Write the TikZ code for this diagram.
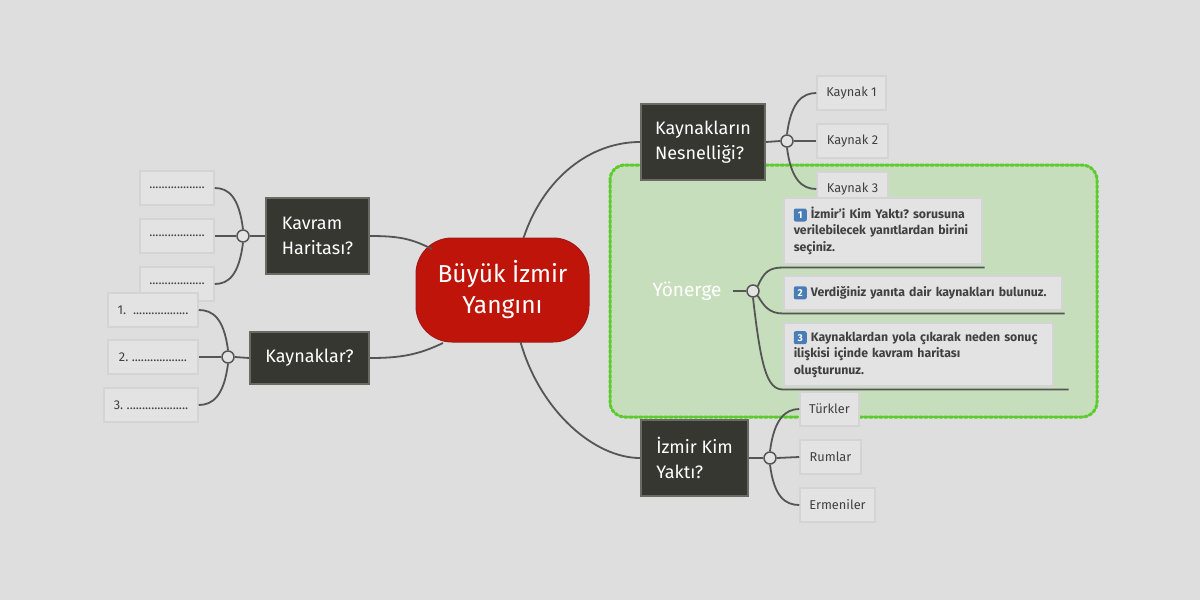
\documentclass[tikz,border=0pt]{standalone}
\usepackage{fontspec}
\setmainfont{Fira Sans}
\frenchspacing
\definecolor{bgGray}{HTML}{DEDEDE}
\definecolor{rootRed}{HTML}{BE140A}
\definecolor{rootEdge}{HTML}{A51818}
\definecolor{topicDark}{HTML}{373732}
\definecolor{topicEdge}{HTML}{6A6A65}
\definecolor{leafFill}{HTML}{E3E3E3}
\definecolor{leafEdge}{HTML}{D4D4D4}
\definecolor{leafText}{HTML}{404040}
\definecolor{lineGray}{HTML}{555555}
\definecolor{groupFill}{HTML}{C7DEBC}
\definecolor{groupEdge}{HTML}{5BCB2E}
\definecolor{iconBlue}{HTML}{4A7DB5}
\newcommand{\numicon}[1]{\tikz[baseline=(n.base)]\node (n) [fill=iconBlue,rounded corners=2pt,text=white,inner sep=0pt,minimum size=13pt,text depth=0pt,yshift=-1pt,font=\fontsize{10}{10}\selectfont\bfseries] {#1};}

\begin{document}
\begin{tikzpicture}
[x=1pt,y=-1pt,
  rootNode/.style={shape=rectangle,rounded corners=36pt,fill=rootRed,draw=rootEdge,line width=1pt,text=white,align=center,font=\fontsize{24.5}{31}\selectfont,minimum width=173pt,minimum height=104pt},%
  topicNode/.style={shape=rectangle,fill=topicDark,draw=topicEdge,line width=2pt,text=white,align=left,font=\fontsize{18}{25}\selectfont,inner sep=0pt},%
  leafNode/.style={shape=rectangle,fill=leafFill,draw=leafEdge,line width=1.5pt,text=leafText,font=\fontsize{12.8}{14}\selectfont,minimum height=34pt,inner sep=0pt},%
  insNode/.style={shape=rectangle,fill=leafFill,draw=leafEdge,line width=1.5pt,text=leafText,align=left,font=\fontsize{12.3}{16.5}\selectfont\bfseries,inner xsep=10pt,anchor=north west},%
  jnNode/.style={shape=circle,fill=leafFill,draw=lineGray,line width=1.5pt,minimum size=12pt,inner sep=0pt},%
  link/.style={draw=lineGray,line width=1.8pt}]
%% background and group
\fill[bgGray] (0,0) rectangle (1200,600);
\useasboundingbox (0,0) rectangle (1200,600);
\draw[fill=groupFill,draw=groupEdge,line width=3pt,dotted,line cap=round,rounded corners=15pt] (610,165) rectangle (1097,417);
%% root and main topics
\node (root) at (502.5,290) [rootNode] {Büyük İzmir\\Yangını};
\foreach \nodename/\x/\y/\w/\h/\txt in {kn/703/142/124/76/{Kaynakların\\Nesnelliği?}, kv/317.5/236/103/76/{Kavram\\Haritası?}, ky/309.5/358/119/52/{Kaynaklar?}, iz/694.5/458/107/76/{İzmir Kim\\Yaktı?}}
{
  \node (\nodename) at (\x,\y) [topicNode,minimum width=\w pt,minimum height=\h pt] {\txt};
}
%% junctions
\foreach \nodename/\x/\y in {jkn/787/141, jkv/243/236, jky/228/357, jiz/770/458, jyn/753/291}
{
  \node (\nodename) at (\x,\y) [jnNode] {};
}
%% leaves
\foreach \nodename/\x/\y/\w/\txt in {kn1/851.5/93/69/{Kaynak 1}, kn2/852.5/141/71/{Kaynak 2}, kn3/852.5/189/71/{Kaynak 3},
  kv1/177/188/74/{..................}, kv2/177/236/74/{..................}, kv3/177/284/74/{..................},
  ky1/153/310/90/{1.\ \ ..................}, ky2/153/357/90/{2. ..................}, ky3/151/405/94/{3. ....................},
  iz1/829.5/409/59/{Türkler}, iz2/830.5/457/61/{Rumlar}, iz3/837.5/505/75/{Ermeniler}}
{
  \node (\nodename) at (\x,\y) [leafNode,minimum width=\w pt] {\txt};
}
%% instructions
\node (yn) at (687,291) [text=white,font=\fontsize{19}{21}\selectfont,minimum width=92pt] {Yönerge};
\node (ins1) at (783,197) [insNode,text width=178pt,minimum height=66pt] {\numicon{1} İzmir'i Kim Yaktı? sorusuna\\verilebilecek yanıtlardan birini\\seçiniz.};
\node (ins2) at (783,275) [insNode,text width=258pt,minimum height=34pt] {\numicon{2} Verdiğiniz yanıta dair kaynakları bulunuz.};
\node (ins3) at (783,322) [insNode,text width=249pt,minimum height=63pt] {\numicon{3} Kaynaklardan yola çıkarak neden sonuç\\ilişkisi içinde kavram haritası\\oluşturunuz.};
%% root links
\path[link] ([shift={(21,-52)}]root.center) .. controls +(20,-60) and +(-50,0) .. (kn.west);
\path[link] ([shift={(18,52)}]root.center) .. controls +(20,70) and +(-45,0) .. (iz.west);
\path[link] (kv.east) .. controls +(30,0) and +(-20,-10) .. ([shift={(-70.5,-41)}]root.center);
\path[link] (ky.east) .. controls +(30,0) and +(-25,12) .. ([shift={(-59.5,53)}]root.center);
%% topic to junction
\foreach \startnode/\endnode in {kn.east/jkn.west, jkv.east/kv.west, jky.east/ky.west, iz.east/jiz.west, yn.east/jyn.west}
{
  \path[link] (\startnode) -- (\endnode);
}
%% junction to leaves, right side
\foreach \jn/\top/\mid/\bot in {jkn/kn1/kn2/kn3, jiz/iz1/iz2/iz3}
{
  \path[link] (\jn.north) .. controls +(4,-32) and +(-14,0) .. (\top.west);
  \path[link] (\jn.east) -- (\mid.west);
  \path[link] (\jn.south) .. controls +(4,32) and +(-14,0) .. (\bot.west);
}
%% junction to leaves, left side
\foreach \jn/\top/\mid/\bot in {jkv/kv1/kv2/kv3, jky/ky1/ky2/ky3}
{
  \path[link] (\jn.north) .. controls +(-4,-32) and +(14,0) .. (\top.east);
  \path[link] (\jn.west) -- (\mid.east);
  \path[link] (\jn.south) .. controls +(-4,32) and +(14,0) .. (\bot.east);
}
%% junction to instructions
\path[link] (jyn.north east) .. controls +(6,-14) and +(-14,0) .. ([yshift=-3pt]ins1.south west) -- ([yshift=-3pt,xshift=2pt]ins1.south east);
\path[link] (jyn.south east) .. controls +(6,10) and +(-14,0) .. ([yshift=-3pt]ins2.south west) -- ([yshift=-3pt,xshift=2pt]ins2.south east);
\path[link] (jyn.south) .. controls +(8,70) and +(-16,0) .. ([yshift=-3pt]ins3.south west) -- ([yshift=-3pt,xshift=15pt]ins3.south east);
\end{tikzpicture}
\end{document}
